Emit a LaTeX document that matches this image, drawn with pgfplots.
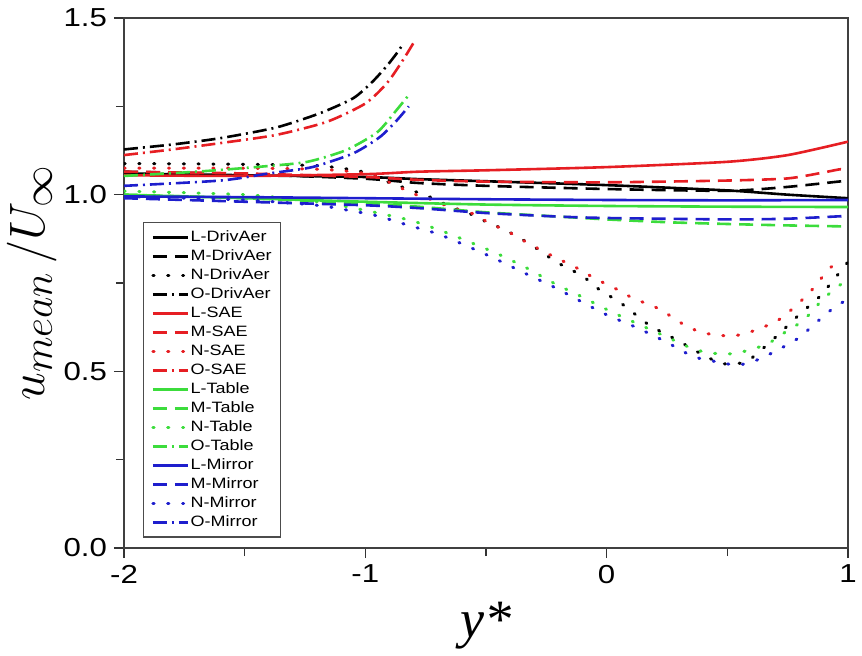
\documentclass[border=0pt]{standalone}
\usepackage{fontspec}
\setmainfont[FakeStretch=1.2]{Liberation Sans}
\newfontfamily\serif{Liberation Serif}
\usepackage{pgfplots}
\pgfplotsset{compat=1.18}
\definecolor{cred}{RGB}{230,30,35}
\definecolor{cgreen}{RGB}{60,220,60}
\definecolor{cblue}{RGB}{30,30,205}
\tikzset{
  Lsty/.style={solid, line width=1.3pt},
  Msty/.style={line width=1.3pt, dash pattern=on 7pt off 4pt},
  Nsty/.style={line width=1.5pt, line cap=round, dash pattern=on 0.6pt off 6.8pt},
  Osty/.style={line width=1.3pt, dash pattern=on 7pt off 2.5pt on 1pt off 2.5pt},
}
\begin{document}
\begin{tikzpicture}
\begin{axis}[name=ax, scale only axis, width=362pt, height=265pt,
  xmin=-2, xmax=1, ymin=0, ymax=1.5,
  xtick={-2,-1,0,1}, xticklabels={-2,-1,0,1},
  ytick={0,0.5,1,1.5}, yticklabels={0.0,0.5,1.0,1.5},
  minor xtick={-1.5,-0.5,0.5}, minor ytick={0.25,0.75,1.25},
  tick pos=left, tick align=outside,
  major tick length=5pt, minor tick length=4pt,
  every tick/.style={black!80, line width=0.7pt},
  axis line style={black!75, line width=0.8pt},
  ticklabel style={font=\fontsize{13}{15}\selectfont},
  every axis x label/.style={at={(axis description cs:0.5,-0.168)}, anchor=base},
  every axis y label/.style={at={(axis description cs:-0.127,0.5)}, anchor=center, rotate=90},
  xlabel={\fontsize{27}{30}\selectfont\serif\itshape y*},
  ylabel={\fontsize{28}{30}\selectfont $u_{mean}\,/U_{\infty}$},
  legend style={at={(axis description cs:0.026,0.615)}, anchor=north west,
    font=\fontsize{7.5}{8}\selectfont, draw=black!70, line width=0.6pt,
    nodes={inner sep=0.6pt, text height=6pt, text depth=1.5pt, anchor=west},
    row sep=0.8pt, inner xsep=4pt, inner ysep=3pt},
  legend cell align=left,
  legend image code/.code={\draw[#1] (0pt,0pt) -- (17.5pt,0pt);},
  every axis plot/.append style={smooth, tension=0.4},
]
% L-DrivAer
\addplot[black, Lsty] coordinates {(-2,1.06) (-1.5,1.055) (-1,1.05) (-0.78,1.044) (-0.5,1.038) (0,1.027) (0.5,1.012) (0.75,1.0) (1,0.99)};
\addlegendentry{L-DrivAer}
% M-DrivAer
\addplot[black, Msty] coordinates {(-2,1.065) (-1.5,1.058) (-1,1.045) (-0.78,1.033) (-0.5,1.025) (0,1.016) (0.5,1.011) (0.75,1.022) (1,1.04)};
\addlegendentry{M-DrivAer}
% N-DrivAer
\addplot[black, Nsty] coordinates {(-2,1.088) (-1.5,1.086) (-1.2,1.082) (-1.05,1.07) (-0.97,1.058) (-0.91,1.037) (-0.84,1.02) (-0.79,1.008) (-0.72,0.99) (-0.65,0.967) (-0.556,0.943) (-0.49,0.92) (-0.42,0.90) (-0.31,0.857) (-0.21,0.81) (-0.1,0.77) (-0.04,0.736) (0.065,0.69) (0.176,0.631) (0.29,0.589) (0.40,0.546) (0.47,0.524) (0.52,0.52) (0.59,0.532) (0.70,0.597) (0.80,0.662) (0.88,0.71) (0.95,0.767) (1,0.81)};
\addlegendentry{N-DrivAer}
% O-DrivAer
\addplot[black, Osty] coordinates {(-2,1.128) (-1.8,1.142) (-1.6,1.16) (-1.37,1.19) (-1.19,1.23) (-1.05,1.273) (-0.97,1.32) (-0.91,1.365) (-0.87,1.40) (-0.845,1.425)};
\addlegendentry{O-DrivAer}
% L-SAE
\addplot[cred, Lsty] coordinates {(-2,1.055) (-1.5,1.053) (-1,1.058) (-0.78,1.065) (-0.5,1.069) (0,1.078) (0.5,1.093) (0.75,1.112) (1,1.15)};
\addlegendentry{L-SAE}
% M-SAE
\addplot[cred, Msty] coordinates {(-2,1.065) (-1.5,1.06) (-1,1.05) (-0.78,1.042) (-0.5,1.037) (0,1.035) (0.5,1.04) (0.75,1.046) (0.9,1.063) (0.97,1.072) (1,1.065)};
\addlegendentry{M-SAE}
% N-SAE
\addplot[cred, Nsty] coordinates {(-2,1.075) (-1.5,1.075) (-1.2,1.072) (-1.05,1.065) (-0.97,1.055) (-0.9,1.035) (-0.84,1.015) (-0.79,1.0) (-0.72,0.985) (-0.65,0.965) (-0.54,0.943) (-0.49,0.92) (-0.42,0.90) (-0.37,0.88) (-0.31,0.857) (-0.25,0.835) (-0.19,0.815) (-0.13,0.795) (-0.08,0.775) (-0.02,0.753) (0.04,0.733) (0.10,0.71) (0.16,0.693) (0.22,0.676) (0.27,0.654) (0.33,0.628) (0.39,0.611) (0.45,0.603) (0.52,0.60) (0.58,0.608) (0.64,0.623) (0.70,0.64) (0.75,0.665) (0.80,0.696) (0.85,0.73) (0.89,0.764) (0.93,0.795) (0.97,0.812)};
\addlegendentry{N-SAE}
% O-SAE
\addplot[cred, Osty] coordinates {(-2,1.112) (-1.8,1.128) (-1.6,1.146) (-1.37,1.169) (-1.16,1.206) (-1.0,1.258) (-0.91,1.316) (-0.845,1.38) (-0.8,1.43)};
\addlegendentry{O-SAE}
% L-Table
\addplot[cgreen, Lsty] coordinates {(-2,1.0) (-1.5,0.99) (-1,0.98) (-0.5,0.972) (0,0.968) (0.5,0.966) (1,0.965)};
\addlegendentry{L-Table}
% M-Table
\addplot[cgreen, Msty] coordinates {(-2,1.0) (-1.5,0.99) (-1,0.975) (-0.78,0.966) (-0.5,0.95) (-0.2,0.938) (0,0.93) (0.25,0.922) (0.5,0.917) (0.75,0.913) (1,0.91)};
\addlegendentry{M-Table}
% N-Table
\addplot[cgreen, Nsty] coordinates {(-2,1.01) (-1.5,1.0) (-1.2,0.98) (-1.01,0.957) (-0.817,0.928) (-0.693,0.90) (-0.568,0.866) (-0.45,0.832) (-0.33,0.792) (-0.22,0.75) (-0.10,0.71) (0.015,0.67) (0.13,0.634) (0.25,0.597) (0.36,0.563) (0.43,0.552) (0.5,0.549) (0.56,0.555) (0.62,0.566) (0.68,0.583) (0.74,0.611) (0.8,0.637) (0.85,0.668) (0.89,0.70) (0.95,0.736) (1,0.76)};
\addlegendentry{N-Table}
% O-Table
\addplot[cgreen, Osty] coordinates {(-2,1.053) (-1.7,1.065) (-1.42,1.08) (-1.24,1.093) (-1.08,1.126) (-0.95,1.177) (-0.87,1.24) (-0.82,1.282)};
\addlegendentry{O-Table}
% L-Mirror
\addplot[cblue, Lsty] coordinates {(-2,0.995) (-1.5,0.993) (-1,0.99) (-0.5,0.987) (0,0.985) (0.5,0.984) (1,0.985)};
\addlegendentry{L-Mirror}
% M-Mirror
\addplot[cblue, Msty] coordinates {(-2,0.99) (-1.5,0.98) (-1,0.97) (-0.78,0.962) (-0.5,0.948) (-0.2,0.938) (0,0.934) (0.5,0.93) (0.75,0.932) (1,0.94)};
\addlegendentry{M-Mirror}
% N-Mirror
\addplot[cblue, Nsty] coordinates {(-2,0.995) (-1.5,0.985) (-1.2,0.97) (-1.08,0.957) (-0.95,0.94) (-0.825,0.914) (-0.7,0.889) (-0.58,0.855) (-0.46,0.818) (-0.34,0.778) (-0.22,0.739) (-0.11,0.699) (0.0,0.66) (0.127,0.623) (0.247,0.583) (0.354,0.543) (0.42,0.532) (0.53,0.518) (0.59,0.524) (0.65,0.54) (0.74,0.572) (0.8,0.597) (0.89,0.651) (0.94,0.679) (1,0.705)};
\addlegendentry{N-Mirror}
% O-Mirror
\addplot[cblue, Osty] coordinates {(-2,1.025) (-1.6,1.04) (-1.4,1.06) (-1.22,1.078) (-1.05,1.117) (-0.94,1.163) (-0.87,1.21) (-0.82,1.25)};
\addlegendentry{O-Mirror}
\end{axis}
\pgfresetboundingbox
\path ([xshift=-62pt,yshift=-53.5pt]ax.south west) rectangle ([xshift=7pt,yshift=9pt]ax.north east);
\end{tikzpicture}
\end{document}
